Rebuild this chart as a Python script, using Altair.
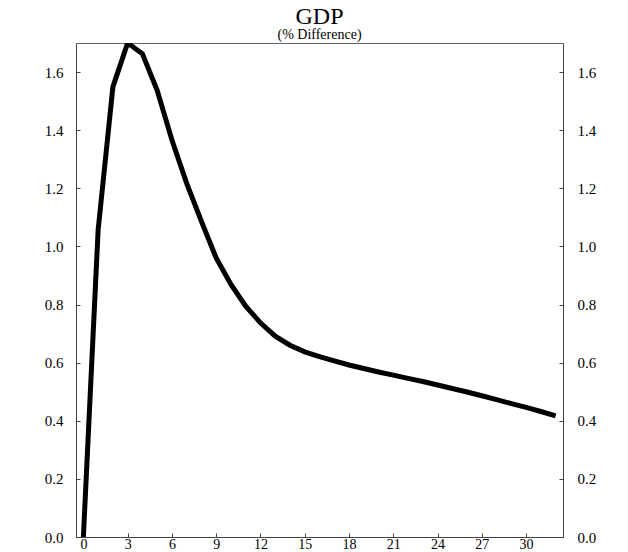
import altair as alt
import pandas as pd

# Quarters after the shock and the GDP response (% difference from baseline)
quarters = list(range(33))
gdp_diff = [0.0, 1.057, 1.549, 1.70, 1.663, 1.537, 1.366, 1.217, 1.086, 0.960,
            0.869, 0.794, 0.737, 0.691, 0.660, 0.637, 0.621, 0.606, 0.592, 0.580,
            0.568, 0.557, 0.546, 0.535, 0.523, 0.511, 0.499, 0.486, 0.473, 0.459,
            0.446, 0.432, 0.417]
x_ticks = list(range(0, 31, 3))
y_ticks = [0.0, 0.2, 0.4, 0.6, 0.8, 1.0, 1.2, 1.4, 1.6]
subtitle = ["(% Difference)"]

df = pd.DataFrame({"quarter": quarters, "gdp": gdp_diff})

FONT = "Liberation Serif"
INWARD = {"expr": "-4"}
W, H = 487, 494

x_scale = alt.Scale(domain=[-0.5, 32.5], nice=False, zero=False)
y_scale = alt.Scale(domain=[0, 1.7], nice=False, zero=False)

axis_style = dict(
    title=None,
    grid=False,
    labelFont=FONT,
    labelColor="black",
    tickColor="#444",
    tickSize=INWARD,
    domainColor="#444",
    labelFlush=False,
)

left_axis = alt.Axis(orient="left", values=y_ticks, format=".1f",
                     labelPadding=17, labelFontSize=15, **axis_style)
right_axis = alt.Axis(orient="right", values=y_ticks, format=".1f",
                      labelPadding=18, labelFontSize=15, **axis_style)
bottom_axis = alt.Axis(orient="bottom", values=x_ticks, format="d",
                       labelPadding=4, labelFontSize=14, **axis_style)

x_enc = alt.X("quarter:Q", scale=x_scale, axis=bottom_axis)

base = alt.Chart(df)

line = base.mark_line(color="black", strokeWidth=5, strokeJoin="miter",
                      clip=True).encode(
    x=x_enc,
    y=alt.Y("gdp:Q", scale=y_scale, axis=left_axis),
)

# invisible copy that carries the right-hand axis
mirror = base.mark_line(opacity=0).encode(
    x=x_enc,
    y=alt.Y("gdp:Q", scale=y_scale, axis=right_axis),
)

# subtitle line under the main title
sub = alt.Chart(pd.DataFrame({"label": subtitle})).mark_text(
    font=FONT, fontSize=14, color="black", baseline="alphabetic", align="center"
).encode(
    text="label:N",
    x=alt.value(W / 2),
    y=alt.value(-4),
)

chart = (
    alt.layer(line, mirror, sub)
    .resolve_axis(y="independent")
    .properties(
        width=W,
        height=H,
        padding={"left": 76, "top": 43, "right": 65, "bottom": 15},
        autosize=alt.AutoSizeParams(type="none"),
        title=alt.TitleParams(
            "GDP",
            anchor="middle",
            offset=-1,
            font=FONT,
            fontSize=24,
            fontWeight="normal",
            color="black",
        ),
    )
    .configure_view(stroke="#666", strokeWidth=1)
)

chart.save("out.html", embed_options={"renderer": "svg", "actions": False})
